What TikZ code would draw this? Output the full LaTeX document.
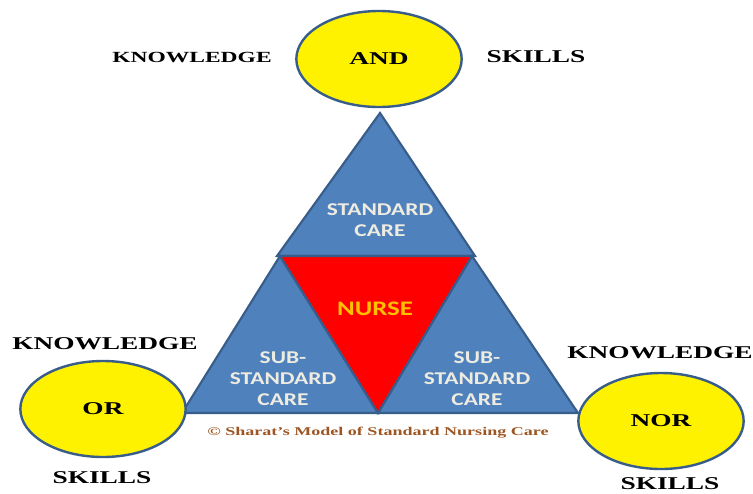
\documentclass[tikz,border=0pt]{standalone}
\usepackage{fontspec}
\usepackage{tikz}
\usetikzlibrary{shapes.geometric, positioning}

% wide faces for the labels
\newfontfamily\serifwide[FakeStretch=1.52]{Liberation Serif}
\newfontfamily\sanswide[FakeStretch=1.3]{Carlito}

\definecolor{triblue}{RGB}{79,129,189}
\definecolor{triline}{RGB}{56,93,138}
\definecolor{nursegold}{RGB}{255,192,0}
\definecolor{carewhite}{RGB}{238,236,225}
\definecolor{notebrown}{RGB}{156,85,35}

\tikzset{
  oval/.style={ellipse, draw=triline, fill=yellow, line width=1.8pt,
    minimum width=124pt, minimum height=72pt, inner sep=0pt,
    font=\serifwide\bfseries\fontsize{13.5}{16}\selectfont},
  word/.style={inner sep=0pt, font=\serifwide\bfseries\fontsize{13.5}{16}\selectfont},
  tri/.style={fill=triblue, draw=triline, line width=1.6pt},
  carelabel/.style={align=center, text=carewhite, inner sep=0pt,
    font=\sanswide\bfseries\fontsize{13.5}{15.75}\selectfont}
}

\begin{document}
\begin{tikzpicture}[x=0.75pt, y=-0.75pt]
  \useasboundingbox (0,0) rectangle (753,493);

  % Triangle corners
  \coordinate (T) at (380,113);
  \coordinate (TL) at (277,256);
  \coordinate (TR) at (475,256);
  \coordinate (ML) at (280,256);
  \coordinate (MR) at (472,256);
  \coordinate (BL) at (182,413);
  \coordinate (BM) at (378,413);
  \coordinate (BR) at (578,413);

  % Blue triangles
  \draw[tri] (T) -- (TL) -- (TR) -- cycle;
  \draw[tri] (ML) -- (BL) -- (BM) -- cycle;
  \draw[tri] (MR) -- (BM) -- (BR) -- cycle;

  % Nurse triangle in the middle
  \draw[tri, fill=red] (ML) -- (MR) -- (BM) -- cycle;

  % Triangle labels
  \node[carelabel] (stdcare) at (380,220) {STANDARD\\CARE};
  \node[carelabel, text=nursegold, font=\sanswide\bfseries\fontsize{15.5}{18}\selectfont] (nurse) at (375,309) {NURSE};
  \node[carelabel] (subleft) at (283,379) {SUB-\\STANDARD\\CARE};
  \node[carelabel] (subright) at (477,379) {SUB-\\STANDARD\\CARE};

  % Ovals
  \node[oval] (andoval) at (379,59) {AND};
  \node[oval] (oroval) at (103,409) {OR};
  \node[oval] (noroval) at (661,421) {NOR};

  % Words round the ovals
  \node[word, font=\serifwide\bfseries\fontsize{11.6}{14}\selectfont] (knowtop) at (192,57) {KNOWLEDGE};
  \node[word] (skilltop) at (536,57) {SKILLS};
  \node[word] (knowleft) at (105,344) {KNOWLEDGE};
  \node[word] (skillleft) at (102,478) {SKILLS};
  \node[word] (knowright) at (660,353) {KNOWLEDGE};
  \node[word] (skillright) at (670,484) {SKILLS};

  % Caption
  \node[word, text=notebrown, font=\serifwide\bfseries\fontsize{8.9}{11}\selectfont] (model) at (378,433) {\textcopyright{} Sharat’s Model of Standard Nursing Care};
\end{tikzpicture}
\end{document}
